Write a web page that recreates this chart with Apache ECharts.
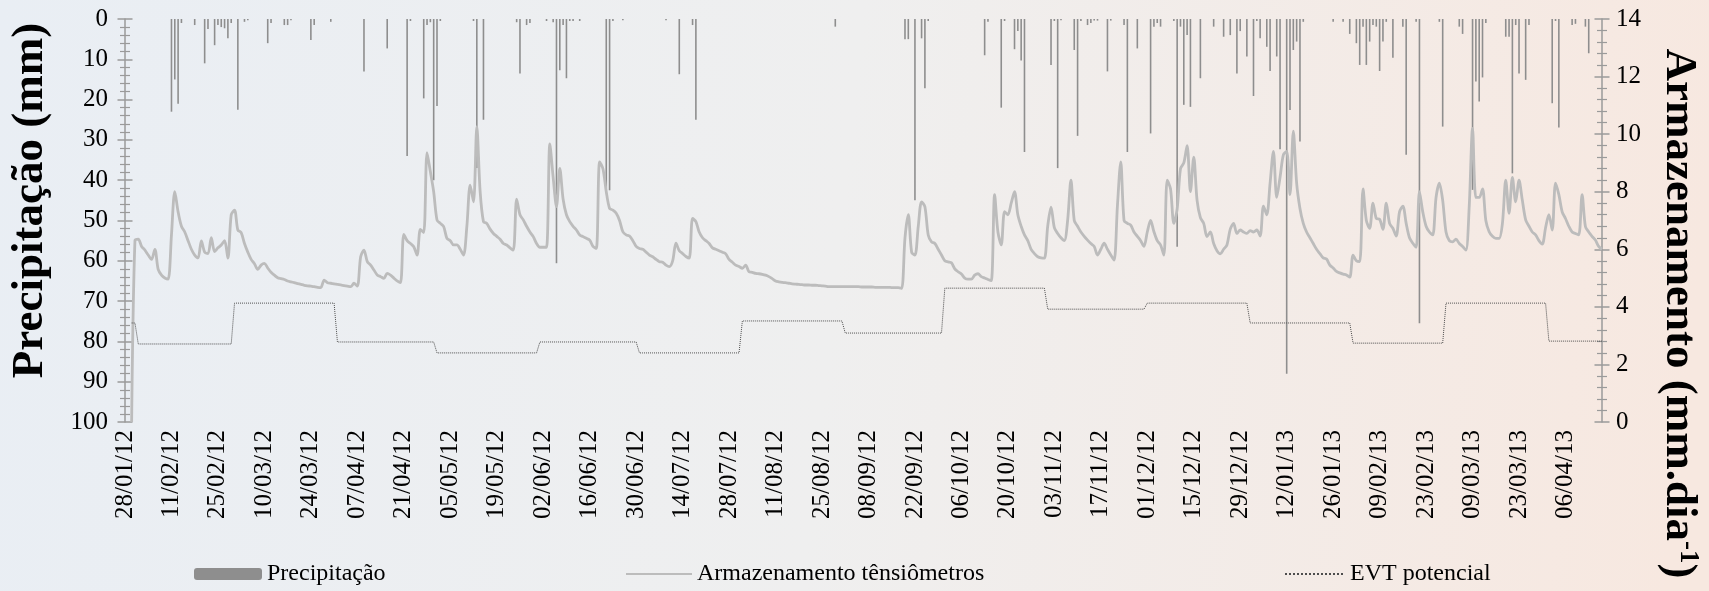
<html>
<head>
    <meta charset='utf-8'/>
    <title>Precipitação, armazenamento e EVT potencial</title>
    <style>
        body {
            margin: 0;
            padding: 0;
        }

        #chart {
            width: 1709px;
            height: 591px;
        }
    </style>
</head>
<body>
<div id='chart'></div>
<script type="text/javascript" src="https://cdn.jsdelivr.net/npm/echarts@6/dist/echarts.min.js"></script>
<script type="text/javascript">
    // eixo diário de 28/01/12 a 17/04/13 (as séries começam em 30/01/12)
    var startYear = 2012, startMonth = 0, startDay = 28;
    var nDays = 446;

    // armazenamento tensiômetros (mm.dia-1), um valor por dia
    var storage = [
        null, null, 0, 6.3, 6.35, 6.1, 5.97, 5.8, 5.65, 6.0,
        5.3, 5.1, 5.0, 4.96, 6.5, 8.0, 7.3, 6.8, 6.6, 6.3,
        6.0, 5.8, 5.7, 6.29, 5.9, 5.85, 6.4, 5.92, 6.05, 6.15,
        6.3, 5.69, 7.2, 7.36, 6.67, 6.58, 6.2, 5.9, 5.65, 5.5,
        5.3, 5.45, 5.51, 5.35, 5.2, 5.1, 5.01, 4.98, 4.95, 4.9,
        4.87, 4.84, 4.81, 4.78, 4.75, 4.73, 4.72, 4.7, 4.68, 4.67,
        4.93, 4.84, 4.82, 4.8, 4.78, 4.76, 4.74, 4.72, 4.7, 4.82,
        4.72, 5.74, 5.97, 5.57, 5.45, 5.28, 5.11, 5.05, 4.99, 5.16,
        5.1, 5.0, 4.9, 4.84, 6.52, 6.3, 6.2, 6.09, 5.8, 6.69,
        6.58, 9.36, 8.7, 8.0, 7.02, 6.9, 6.79, 6.38, 6.3, 6.15,
        6.15, 6.0, 5.8, 6.8, 8.23, 7.65, 10.26, 8.0, 6.96, 6.9,
        6.7, 6.55, 6.45, 6.35, 6.2, 6.15, 6.05, 5.97, 7.74, 7.2,
        7.02, 6.8, 6.6, 6.44, 6.2, 6.07, 6.07, 6.07, 9.66, 8.5,
        7.48, 8.81, 7.74, 7.2, 6.96, 6.8, 6.67, 6.5, 6.44, 6.38,
        6.32, 6.1, 6.03, 9.04, 8.8, 8.0, 7.42, 7.36, 7.25, 7.0,
        6.61, 6.5, 6.46, 6.3, 6.1, 6.03, 6.0, 5.9, 5.8, 5.74,
        5.65, 5.57, 5.55, 5.45, 5.4, 5.6, 6.21, 5.95, 5.85, 5.75,
        5.69, 7.07, 6.96, 6.6, 6.4, 6.3, 6.2, 6.05, 6.0, 5.95,
        5.9, 5.84, 5.65, 5.55, 5.45, 5.4, 5.34, 5.45, 5.22, 5.2,
        5.16, 5.15, 5.13, 5.1, 5.05, 4.98, 4.9, 4.87, 4.85, 4.84,
        4.82, 4.8, 4.79, 4.78, 4.77, 4.76, 4.76, 4.75, 4.75, 4.74,
        4.73, 4.72, 4.7, 4.7, 4.7, 4.7, 4.7, 4.7, 4.7, 4.7,
        4.7, 4.7, 4.69, 4.69, 4.69, 4.69, 4.68, 4.68, 4.68, 4.68,
        4.68, 4.67, 4.67, 4.67, 4.64, 6.4, 7.2, 5.9, 5.8, 6.8,
        7.65, 7.48, 6.5, 6.26, 6.2, 6.0, 5.8, 5.6, 5.56, 5.53,
        5.32, 5.22, 5.14, 5.0, 4.96, 4.96, 5.1, 5.15, 5.05, 5.0,
        4.95, 4.91, 7.9, 6.6, 6.15, 7.31, 7.2, 7.6, 8.0, 7.2,
        6.8, 6.5, 6.3, 6.0, 5.85, 5.74, 5.7, 5.69, 6.8, 7.46,
        6.75, 6.55, 6.4, 6.3, 7.0, 8.4, 7.0, 6.8, 6.6, 6.45,
        6.32, 6.2, 6.1, 5.8, 6.0, 6.21, 6.0, 5.8, 5.62, 7.5,
        9.04, 7.0, 6.9, 6.84, 6.6, 6.45, 6.3, 6.1, 6.6, 7.0,
        6.61, 6.3, 6.15, 5.8, 8.4, 8.1, 6.9, 7.4, 8.8, 9.0,
        9.6, 8.0, 9.2, 7.7, 7.1, 6.9, 6.44, 6.6, 6.2, 5.95,
        5.84, 6.0, 6.15, 6.7, 6.9, 6.55, 6.67, 6.6, 6.55, 6.65,
        6.6, 6.67, 6.46, 7.5, 7.2, 8.3, 9.4, 7.8, 8.5, 9.28,
        9.4, 7.9, 10.1, 8.3, 7.42, 6.9, 6.6, 6.4, 6.2, 6.0,
        5.85, 5.7, 5.66, 5.45, 5.35, 5.23, 5.18, 5.14, 5.11, 5.03,
        5.8, 5.6, 5.57, 8.1, 7.0, 6.73, 7.6, 7.07, 7.04, 6.69,
        7.6, 6.9, 6.73, 6.46, 7.3, 7.5, 6.9, 6.4, 6.21, 6.07,
        8.0, 7.3, 6.8, 6.6, 6.5, 7.8, 8.3, 7.7, 6.6, 6.3,
        6.26, 6.35, 6.2, 6.1, 5.97, 7.5, 10.2, 7.8, 7.8, 8.1,
        7.0, 6.61, 6.45, 6.38, 6.38, 6.9, 8.4, 7.25, 8.5, 7.65,
        8.4, 7.7, 7.02, 6.8, 6.6, 6.5, 6.3, 6.18, 6.75, 7.2,
        6.67, 8.3, 7.9, 7.3, 7.07, 6.8, 6.6, 6.55, 6.5, 7.9,
        6.79, 6.6, 6.45, 6.32, 6.1, 6.0
    ];

    // precipitação: dia (contado a partir de 28/01/12) e lâmina em mm
    var rainDay = [
        14, 15, 16, 17, 21, 24, 25, 27, 28, 29, 30, 31, 32, 34, 36, 37, 43, 44, 48, 49, 50, 56, 57, 62,
        72, 79, 85, 86, 90, 91, 92, 93, 94, 95, 105, 106, 108, 118, 119, 121, 122, 127, 129, 130, 131, 132, 133, 134, 135, 137,
        145, 146, 147, 150, 163, 167, 171, 172, 214,
        235, 236, 238, 240, 241, 242, 259, 260, 264, 265, 268, 269, 270, 271, 279, 280, 281, 282, 286, 287, 288, 290, 291, 292, 293,
        296, 297, 301, 302, 305, 309, 310, 311, 312, 316, 317, 318, 319, 320, 321, 324, 328, 331, 333, 335, 336, 338,
        340, 341, 342, 344, 345, 347, 348, 350, 351, 352, 353, 354, 355, 364, 367,
        369, 371, 372, 373, 374, 375, 376, 377, 378, 379, 380, 382, 385, 386, 389, 390, 396, 397, 402, 403,
        406, 407, 408, 409, 410, 416, 417, 418, 419, 420, 422, 423, 430, 431, 432, 436, 437, 440, 441
    ];
    var rainMm = [
        23, 15, 21, 1, 1.5, 11, 2.5, 6.5, 1.5, 2, 2.3, 4.8, 1, 22.5, 0.7, 0.3, 6, 1, 1.5, 1.5, 0.3, 5.2, 1.5, 0.7,
        13, 7.3, 34, 0.5, 19.7, 1.5, 0.8, 40, 21.6, 0.5, 0.5, 37, 25, 0.8, 13.5, 1.5, 1, 0.5, 0.8, 60.6, 12.7, 1.5, 14.7, 0.5, 0.5, 0.5,
        42, 42.5, 0.5, 0.3, 0.3, 13.7, 1.5, 25, 1.9,
        5, 5, 45, 4.8, 17.2, 0.5, 9, 0.7, 22, 0.5, 7.5, 3, 10.3, 33, 11.4, 0.5, 37, 0.3, 7.7, 29, 0.5, 1.5, 1, 0.4, 0.4,
        13, 0.4, 1.5, 33, 7.3, 28.4, 1.9, 1, 1.9, 0.5, 56.5, 1.9, 21.3, 4, 21.8, 14.7, 1.9, 4.4, 4, 13.5, 3, 9.3,
        19.1, 0.5, 4.8, 6.9, 12.9, 9.3, 32.3, 88, 22.6, 7.7, 5.6, 30.4, 0.7, 0.7, 0.7,
        3.7, 6, 11.4, 1.9, 11.4, 5.6, 1.5, 1.9, 12.9, 5.6, 0.7, 9.6, 1.9, 33.7, 0.7, 75.5, 0.7, 26.7, 1.9, 3.7,
        42.4, 15.5, 20.5, 14.5, 1, 4.4, 4.4, 38.3, 1.5, 13.5, 15.1, 1.5, 20.9, 0.5, 26.9, 1.5, 1.2, 1.9, 8.5
    ];

    // EVT potencial: um valor por mês (mm.dia-1)
    var evtMonth = ['01/12', '02/12', '03/12', '04/12', '05/12', '06/12', '07/12', '08/12',
        '09/12', '10/12', '11/12', '12/12', '01/13', '02/13', '03/13', '04/13'];
    var evtValue = [3.44, 2.71, 4.13, 2.78, 2.40, 2.78, 2.40, 3.51,
        3.09, 4.65, 3.92, 4.13, 3.44, 2.74, 4.13, 2.81];

    var firstDataDay = 2;

    function pad(n) {
        return n < 10 ? '0' + n : '' + n;
    }

    var days = [], evtDaily = [], rainDaily = [];
    for (var i = 0; i < nDays; i++) {
        var d = new Date(startYear, startMonth, startDay + i);
        var mm = pad(d.getMonth() + 1), yy = String(d.getFullYear()).slice(2);
        days.push(pad(d.getDate()) + '/' + mm + '/' + yy);
        evtDaily.push(i < firstDataDay ? null : evtValue[evtMonth.indexOf(mm + '/' + yy)]);
        rainDaily.push(null);
    }
    for (var k = 0; k < rainDay.length; k++) {
        rainDaily[rainDay[k]] = rainMm[k];
    }

    var serif = "'Liberation Serif', 'DejaVu Serif', serif";
    var axisGrey = '#9a9a9a';
    var labelSize = 25;

    function tickAxis(pos, inverse, max, interval, inside, extra) {
        var ax = {
            type: 'value',
            position: pos,
            inverse: inverse,
            min: 0,
            max: max,
            interval: interval,
            splitLine: {show: false},
            axisLine: {show: !inside, lineStyle: {color: axisGrey, width: 1.5}},
            axisTick: {show: true, inside: inside, length: 7.5, lineStyle: {color: axisGrey, width: 1.5}},
            minorTick: {show: true, splitNumber: 5, length: 5, lineStyle: {color: axisGrey, width: 1.2}},
            axisLabel: {show: false}
        };
        for (var key in extra) ax[key] = extra[key];
        return ax;
    }

    var legendText = {fontFamily: serif, fontSize: 24, color: '#000'};

    var chart = echarts.init(document.getElementById('chart'), null, {renderer: 'canvas'});

    var option = {
        animation: false,
        backgroundColor: {
            type: 'linear', x: 0, y: 0, x2: 1, y2: 0.3,
            colorStops: [
                {offset: 0, color: '#e9eef4'},
                {offset: 0.5, color: '#efefef'},
                {offset: 1, color: '#f7e8e0'}
            ]
        },
        grid: {left: 125, right: 91, top: 19, bottom: 169},
        legend: [
            {
                data: ['Precipitação'], left: 189, top: 557,
                itemWidth: 68, itemHeight: 12,
                textStyle: legendText
            },
            {
                data: ['Armazenamento tênsiômetros'], left: 620, top: 557,
                itemWidth: 66, itemHeight: 12,
                itemStyle: {opacity: 0},
                textStyle: legendText
            },
            {
                data: ['EVT potencial'], left: 1279, top: 557,
                itemWidth: 60, itemHeight: 12,
                itemStyle: {opacity: 0},
                textStyle: legendText
            }
        ],
        xAxis: {
            type: 'category',
            data: days,
            boundaryGap: false,
            axisLine: {show: false},
            axisTick: {show: false},
            axisLabel: {
                interval: 13,
                rotate: 90,
                margin: 8,
                padding: [20, 0, 0, 0],
                fontFamily: serif,
                fontSize: labelSize,
                color: '#000'
            }
        },
        yAxis: [
            tickAxis('left', true, 100, 10, false, {
                name: 'Precipitação (mm)',
                nameLocation: 'middle',
                nameGap: 72,
                nameTextStyle: {fontFamily: serif, fontSize: 45, fontWeight: 'bold', color: '#000', padding: [0, 0, 0, 40]},
                axisLabel: {show: true, margin: 17, fontFamily: serif, fontSize: labelSize, color: '#000'}
            }),
            tickAxis('right', false, 14, 2, false, {
                name: '{t|Armazenamento (mm.dia}{s|-1}{t|)}',
                nameLocation: 'middle',
                nameRotate: -90,
                nameGap: 54,
                nameTextStyle: {
                    color: '#000',
                    padding: [0, 0, 0, 186],
                    rich: {
                        t: {fontFamily: serif, fontSize: 45, fontWeight: 'bold', color: '#000'},
                        s: {fontFamily: serif, fontSize: 27, fontWeight: 'bold', color: '#000', verticalAlign: 'top'}
                    }
                },
                axisLabel: {show: true, margin: 14, fontFamily: serif, fontSize: labelSize, color: '#000'}
            }),
            tickAxis('left', true, 100, 10, true, {}),
            tickAxis('right', false, 14, 2, true, {})
        ],
        series: [
            {
                name: 'Armazenamento tênsiômetros',
                type: 'line',
                yAxisIndex: 1,
                data: storage,
                symbol: 'none',
                smooth: 0.3,
                lineStyle: {color: '#bcbcbc', width: 2.8},
                itemStyle: {color: '#bcbcbc'}
            },
            {
                name: 'EVT potencial',
                type: 'line',
                yAxisIndex: 1,
                data: evtDaily,
                symbol: 'none',
                lineStyle: {color: '#4d4d4d', width: 1, type: 'dotted'},
                itemStyle: {color: '#4d4d4d'}
            },
            {
                name: 'Precipitação',
                type: 'bar',
                yAxisIndex: 0,
                data: rainDaily,
                barWidth: 1.6,
                itemStyle: {color: '#8e8e8e'}
            }
        ]
    };

    chart.setOption(option);
</script>
</body>
</html>
